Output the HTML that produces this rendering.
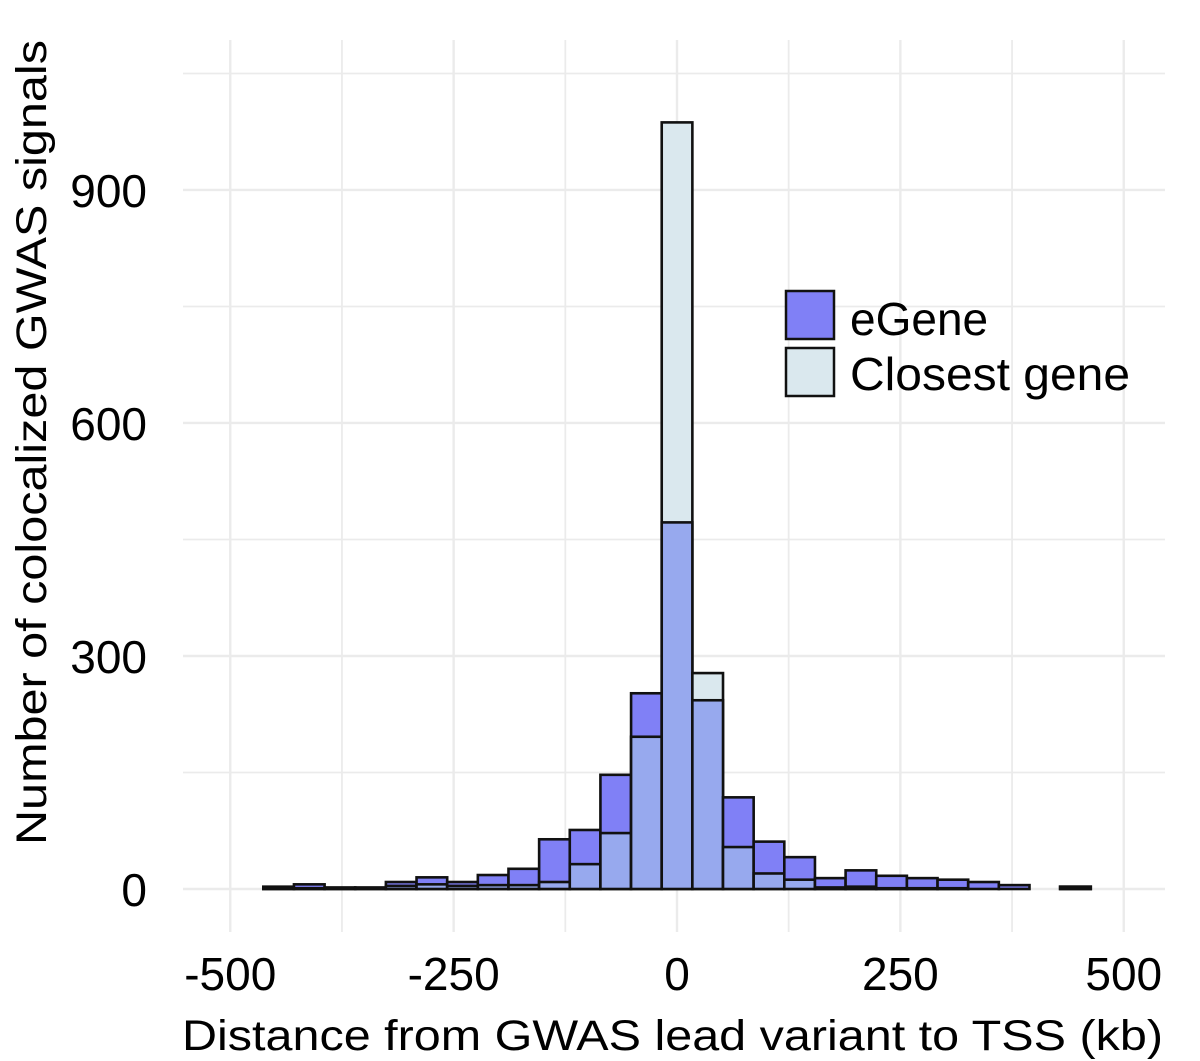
<!DOCTYPE html>
<html><head><meta charset="utf-8"><style>
html,body{margin:0;padding:0;background:#fff;}
svg{display:block;font-family:"Liberation Sans",Arial,sans-serif;}
</style></head><body>
<svg id="chart" width="1200" height="1061" viewBox="0 0 1200 1061" xmlns="http://www.w3.org/2000/svg">
<g id="grid"></g>
<g id="bars"></g>
<g id="axes"></g>
<g>
<rect x="786" y="291" width="48" height="48" fill="#8080f6" stroke="#111" stroke-width="2.5"/>
<text x="850" y="335" font-size="46">eGene</text>
<rect x="786" y="348" width="48" height="48" fill="#dae8ee" stroke="#111" stroke-width="2.5"/>
<text x="850" y="390" font-size="46" textLength="280" lengthAdjust="spacingAndGlyphs">Closest gene</text>
</g>
<text x="182" y="1050" font-size="43" textLength="981" lengthAdjust="spacingAndGlyphs">Distance from GWAS lead variant to TSS (kb)</text>
<text transform="translate(46,845) rotate(-90)" x="0" y="0" font-size="43" textLength="805" lengthAdjust="spacingAndGlyphs">Number of colocalized GWAS signals</text>
</svg>
<script>
const binStart = -463;
const binWidth = 34.3;
const egene = [3,6,2,2,9,15,9,18,26,64,76,147,252,472,243,118,61,41,14,24,17,14,12,9,5,0,3];
const closest = [2,1,1,1,4,6,4,5,5,9,32,72,196,987,278,54,20,12,2,3,1,1,1,0,0,0,3];
const xTicks = [-500,-250,0,250,500];
const xMinor = [-375,-125,125,375];
const yTicks = [0,300,600,900];
const yMinor = [150,450,750,1050];
const xTickLabels = ["-500","-250","0","250","500"];
const yTickLabels = ["0","300","600","900"];

const X = v => 677 + (v) * 0.8935;
const Y = v => 889 - v * 0.7767;
const NS = "http://www.w3.org/2000/svg";
function mk(tag, attrs, parent){const e=document.createElementNS(NS,tag);for(const k in attrs)e.setAttribute(k,attrs[k]);parent.appendChild(e);return e;}
const grid=document.getElementById('grid'), bars=document.getElementById('bars'), axes=document.getElementById('axes');
yMinor.concat(yTicks).forEach(v=>{const l=mk('line',{x1:183,x2:1165,y1:Y(v),y2:Y(v),stroke:'#ebebeb','stroke-width':yTicks.includes(v)?2.4:1.8},grid);

});
xMinor.concat(xTicks).forEach(v=>{const l=mk('line',{x1:X(v),x2:X(v),y1:40,y2:932,stroke:'#ebebeb','stroke-width':xTicks.includes(v)?2.4:1.8},grid);

});
egene.forEach((e,i)=>{
  const c=closest[i];
  const x0=X(binStart+i*binWidth), x1=X(binStart+(i+1)*binWidth);
  const hi=Math.max(e,c), lo=Math.min(e,c);
  const r1=mk('rect',{x:x0,y:Y(hi),width:x1-x0,height:Y(0)-Y(hi),fill:e>=c?'#8080f6':'#dae8ee',stroke:'#111','stroke-width':2.6},bars);
  
  
  const r2=mk('rect',{x:x0,y:Y(lo),width:x1-x0,height:Y(0)-Y(lo),fill:'#97a9ee',stroke:'#111','stroke-width':2.6},bars);
  
  
});
xTicks.forEach((v,i)=>{const t=mk('text',{x:X(v),y:990,'font-size':46,'text-anchor':'middle'},axes);t.textContent=xTickLabels[i];

});
yTicks.forEach((v,i)=>{const t=mk('text',{x:147,y:Y(v)+17,'font-size':46,'text-anchor':'end'},axes);t.textContent=yTickLabels[i];

});
</script>
</body></html>
